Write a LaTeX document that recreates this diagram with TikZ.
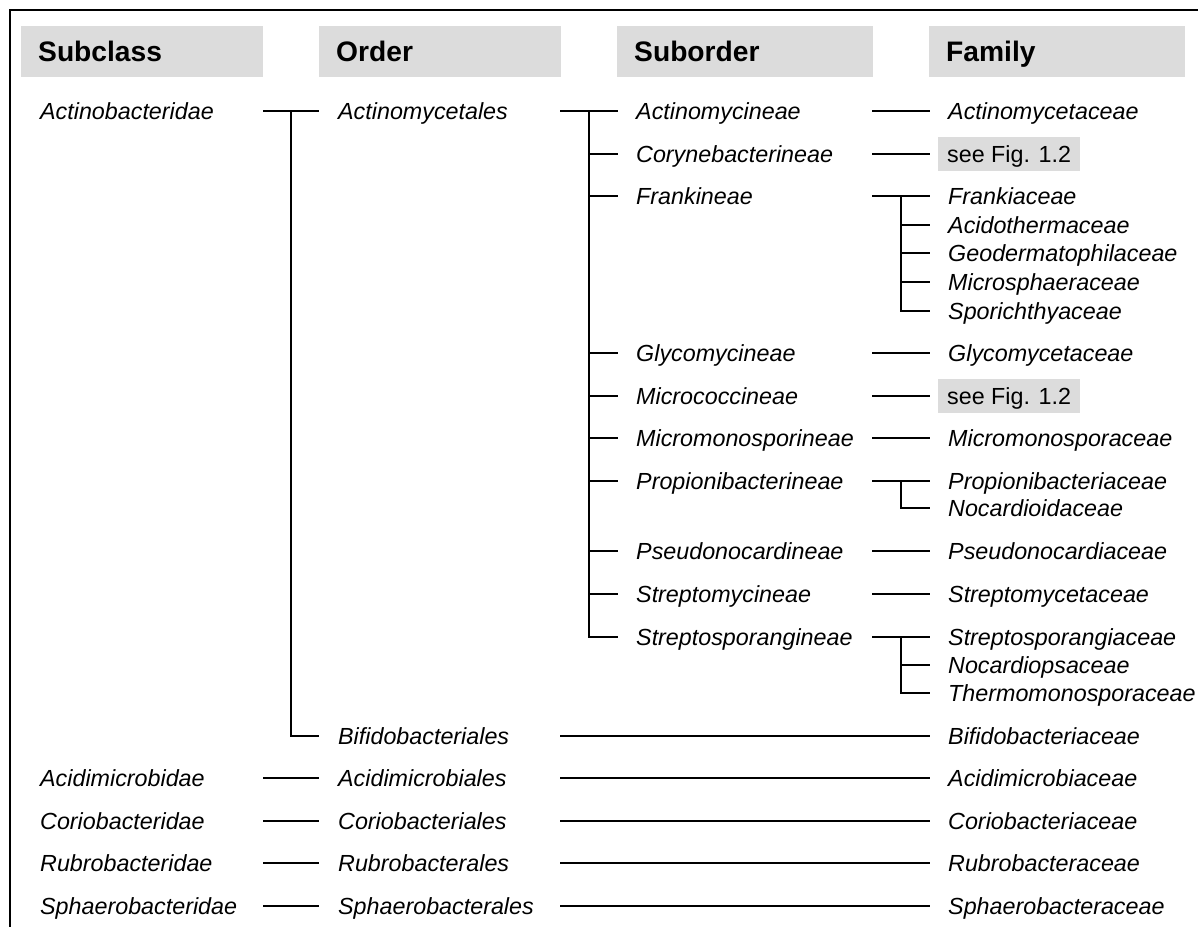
\documentclass[tikz,border=0pt]{standalone}
\usepackage{fontspec}
\setmainfont{Liberation Sans}
\definecolor{hdrgray}{RGB}{220,220,220}
\begin{document}
\begin{tikzpicture}[x=1pt,y=-1pt,
  tx/.style={font=\itshape\fontsize{23.3}{28}\selectfont, inner sep=0pt, text height=16.7pt, text depth=0pt, anchor=west},
  hdr/.style={fill=hdrgray, font=\bfseries\fontsize{28.2}{32}\selectfont, inner xsep=17pt, inner ysep=0pt, text height=20.2pt, text depth=0pt, minimum height=51pt, anchor=north west, align=left},
  seefig/.style={fill=hdrgray, font=\fontsize{23.3}{28}\selectfont, inner xsep=9pt, inner ysep=0pt, text height=16.7pt, text depth=0pt, minimum height=34pt, minimum width=140pt, anchor=west},
  ln/.style={line width=1.5pt},
  frame/.style={line width=2pt}]
\useasboundingbox (0,0) rectangle (1198,926);
% frame
\draw[frame] (1200,10) -- (10,10) -- (10,930);
% headers
\node[hdr, text width=208pt] (h1) at (21,26) {Subclass};
\node[hdr, text width=208pt] (h2) at (319,26) {Order};
\node[hdr, text width=222pt] (h3) at (617,26) {Suborder};
\node[hdr, text width=222pt] (h4) at (929,26) {Family};
% column x coordinates
\coordinate (A1) at (263,0);
\coordinate (Av) at (291,0);
\coordinate (A2) at (319,0);
\coordinate (B1) at (560,0);
\coordinate (Bv) at (589,0);
\coordinate (B2) at (618,0);
\coordinate (C1) at (872,0);
\coordinate (Cv) at (901,0);
\coordinate (C2) at (930,0);
% subclass
\node[tx] (s1) at (40,111) {Actinobacteridae};
\node[tx] (s12) at (40,778) {Acidimicrobidae};
\node[tx] (s13) at (40,821) {Coriobacteridae};
\node[tx] (s14) at (40,863) {Rubrobacteridae};
\node[tx] (s15) at (40,906) {Sphaerobacteridae};
% order
\node[tx] (o1) at (338,111) {Actinomycetales};
\node[tx] (o11) at (338,736) {Bifidobacteriales};
\node[tx] (o12) at (338,778) {Acidimicrobiales};
\node[tx] (o13) at (338,821) {Coriobacteriales};
\node[tx] (o14) at (338,863) {Rubrobacterales};
\node[tx] (o15) at (338,906) {Sphaerobacterales};
% suborder
\node[tx] (u1) at (636,111) {Actinomycineae};
\node[tx] (u2) at (636,154) {Corynebacterineae};
\node[tx] (u3) at (636,196) {Frankineae};
\node[tx] (u4) at (636,353) {Glycomycineae};
\node[tx] (u5) at (636,396) {Micrococcineae};
\node[tx] (u6) at (636,438) {Micromonosporineae};
\node[tx] (u7) at (636,481) {Propionibacterineae};
\node[tx] (u8) at (636,551) {Pseudonocardineae};
\node[tx] (u9) at (636,594) {Streptomycineae};
\node[tx] (u10) at (636,637) {Streptosporangineae};
% family
\node[tx] (f1) at (948,111) {Actinomycetaceae};
\node[seefig] (f2) at (938,154) {see Fig. 1.2};
\node[tx] (f3) at (948,196) {Frankiaceae};
\node[tx] (f3b) at (948,225) {Acidothermaceae};
\node[tx] (f3c) at (948,253) {Geodermatophilaceae};
\node[tx] (f3d) at (948,282) {Microsphaeraceae};
\node[tx] (f3e) at (948,311) {Sporichthyaceae};
\node[tx] (f4) at (948,353) {Glycomycetaceae};
\node[seefig] (f5) at (938,396) {see Fig. 1.2};
\node[tx] (f6) at (948,438) {Micromonosporaceae};
\node[tx] (f7) at (948,481) {Propionibacteriaceae};
\node[tx] (f7b) at (948,508) {Nocardioidaceae};
\node[tx] (f8) at (948,551) {Pseudonocardiaceae};
\node[tx] (f9) at (948,594) {Streptomycetaceae};
\node[tx] (f10) at (948,637) {Streptosporangiaceae};
\node[tx] (f10b) at (948,665) {Nocardiopsaceae};
\node[tx] (f10c) at (948,693) {Thermomonosporaceae};
\node[tx] (f11) at (948,736) {Bifidobacteriaceae};
\node[tx] (f12) at (948,778) {Acidimicrobiaceae};
\node[tx] (f13) at (948,821) {Coriobacteriaceae};
\node[tx] (f14) at (948,863) {Rubrobacteraceae};
\node[tx] (f15) at (948,906) {Sphaerobacteraceae};
% subclass -> order
\draw[ln] (A1 |- s1.west) -- (A2 |- o1.west);
\draw[ln] (Av |- o1.west) |- (A2 |- o11.west);
\foreach \i in {12,13,14,15}{
  \draw[ln] (A1 |- s\i.west) -- (A2 |- o\i.west);
  \draw[ln] (B1 |- o\i.west) -- (C2 |- f\i.west);
}
% Bifidobacteriales -> family
\draw[ln] (B1 |- o11.west) -- (C2 |- f11.west);
% order -> suborders
\draw[ln] (B1 |- o1.west) -- (B2 |- u1.west);
\draw[ln] (Bv |- u1.west) |- (B2 |- u10.west);
\foreach \i in {2,...,9}{
  \draw[ln] (Bv |- u\i.west) -- (B2 |- u\i.west);
}
% suborder -> family
\foreach \i in {1,3,4,6,7,8,9,10}{
  \draw[ln] (C1 |- u\i.west) -- (C2 |- f\i.west);
}
\draw[ln] (C1 |- u2.west) -- (C2 |- f2.west);
\draw[ln] (C1 |- u5.west) -- (C2 |- f5.west);
% Frankineae branch
\draw[ln] (Cv |- f3.west) |- (C2 |- f3e.west);
\foreach \j in {b,c,d}{
  \draw[ln] (Cv |- f3\j.west) -- (C2 |- f3\j.west);
}
% Propionibacterineae branch
\draw[ln] (Cv |- f7.west) |- (C2 |- f7b.west);
% Streptosporangineae branch
\draw[ln] (Cv |- f10.west) |- (C2 |- f10c.west);
\draw[ln] (Cv |- f10b.west) -- (C2 |- f10b.west);
\end{tikzpicture}
\end{document}
